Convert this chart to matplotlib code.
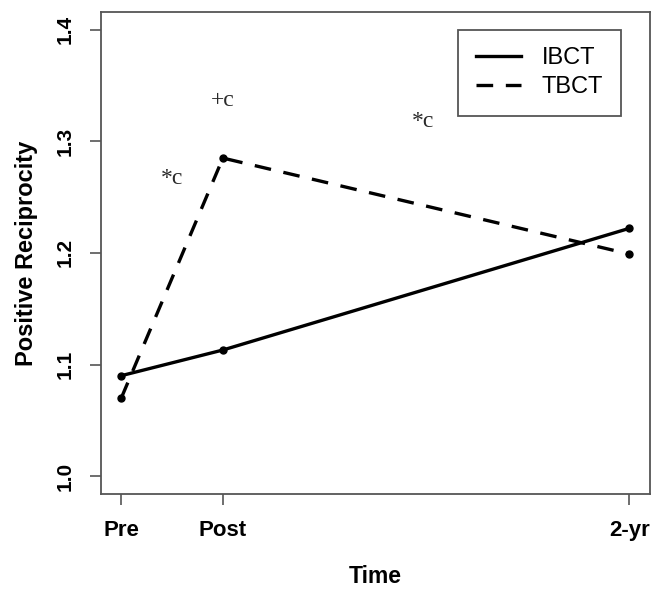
import matplotlib.pyplot as plt
from matplotlib.lines import Line2D

# time points (Pre, Post, 2-yr) placed on a 0..5 scale
time = [0, 1, 5]
time_labels = ['Pre', 'Post', '2-yr']

ibct = [1.090, 1.113, 1.222]
tbct = [1.070, 1.285, 1.199]

# significance markers: (x, y, text)
notes_x = [0.5, 1.0, 2.97]
notes_y = [1.267, 1.337, 1.318]
notes_txt = ['*c', '+c', '*c']

plt.rcParams['font.family'] = ['Liberation Sans', 'DejaVu Sans']

fig = plt.figure(figsize=(6.57, 5.93), dpi=100)
ax = fig.add_axes([0.1537, 0.167, 0.835, 0.813])

ax.plot(time, ibct, color='black', linewidth=2.4, marker='o', markersize=5,
        solid_capstyle='butt')
ax.plot(time, tbct, color='black', linewidth=2.4, marker='o', markersize=5,
        linestyle=(0, (5, 3.8)), dash_capstyle='butt')

for x, y, t in zip(notes_x, notes_y, notes_txt):
    ax.text(x, y, t, fontsize=17, family='Liberation Serif', color='#2a2a2a',
            ha='center', va='center')

ax.set_xlim(-0.2, 5.2)
ax.set_ylim(0.984, 1.416)
ax.set_xticks(time)
ax.set_xticklabels(time_labels, fontsize=16, fontweight='bold')
ax.set_yticks([1.0, 1.1, 1.2, 1.3, 1.4])
ax.set_yticklabels(['1.0', '1.1', '1.2', '1.3', '1.4'], fontsize=15,
                   fontweight='bold', rotation=90, va='center')
ax.tick_params(axis='both', length=8, width=1.2, color='#555555')
ax.tick_params(axis='x', pad=11)
ax.tick_params(axis='y', pad=11)
for s in ax.spines.values():
    s.set_color('#555555')
    s.set_linewidth(1.3)

ax.set_xlabel('Time', fontsize=16.5, fontweight='bold', labelpad=17)
ax.set_ylabel('Positive Reciprocity', fontsize=17, fontweight='bold', labelpad=13)

handles = [Line2D([], [], color='black', linewidth=2.4),
           Line2D([], [], color='black', linewidth=2.4, linestyle=(0, (5, 3.8)))]
leg = ax.legend(handles, ['IBCT', 'TBCT'], loc='upper right',
                bbox_to_anchor=(0.948, 0.963), fontsize=17, fancybox=False,
                framealpha=1, edgecolor='#555555', handlelength=1.9,
                borderpad=0.75, labelspacing=0.3, handletextpad=0.9,
                borderaxespad=0)
leg.get_frame().set_linewidth(1.3)

plt.savefig('out.png', dpi=100)
